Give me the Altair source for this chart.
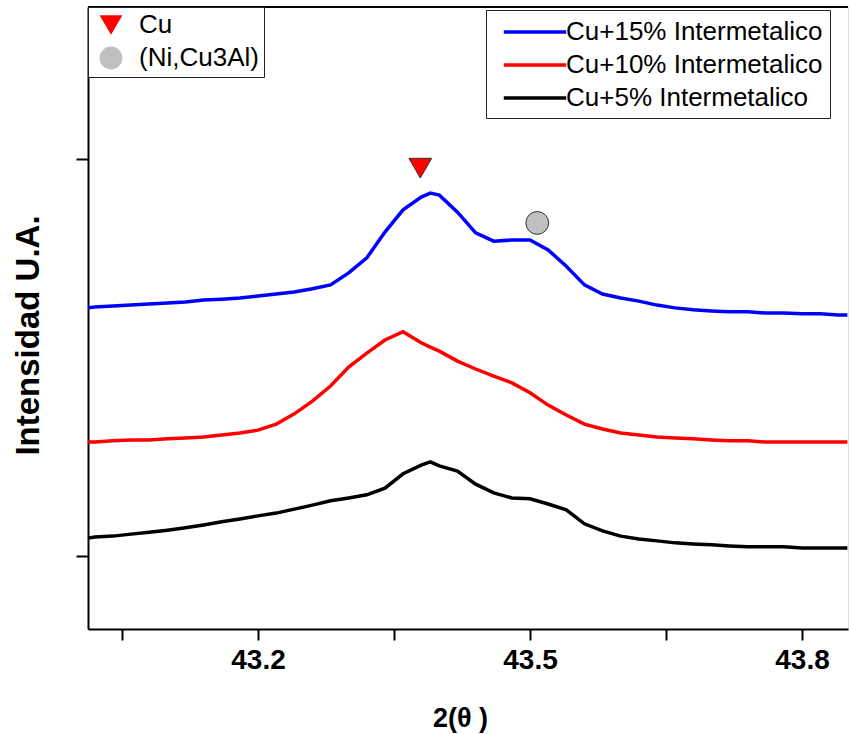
import altair as alt
import pandas as pd

# 2-theta grid (degrees)
two_theta = [43.0125, 43.02, 43.04, 43.06, 43.08, 43.10, 43.12, 43.14, 43.16, 43.18,
             43.20, 43.22, 43.24, 43.26, 43.28, 43.30, 43.32, 43.34, 43.36, 43.38,
             43.39, 43.40, 43.42, 43.44, 43.46, 43.48, 43.50, 43.52, 43.54, 43.56,
             43.58, 43.60, 43.62, 43.64, 43.66, 43.68, 43.70, 43.72, 43.74, 43.76,
             43.78, 43.80, 43.82, 43.84, 43.85]

# intensity (arbitrary units, offset per sample)
cu15 = [0.625, 0.627, 0.630, 0.632, 0.635, 0.637, 0.640, 0.645, 0.647, 0.650,
        0.655, 0.660, 0.665, 0.673, 0.683, 0.713, 0.751, 0.816, 0.872, 0.904,
        0.914, 0.909, 0.866, 0.814, 0.793, 0.796, 0.796, 0.771, 0.730, 0.683,
        0.660, 0.650, 0.642, 0.632, 0.625, 0.620, 0.617, 0.615, 0.615, 0.612,
        0.612, 0.610, 0.610, 0.607, 0.607]
cu10 = [0.287, 0.287, 0.290, 0.292, 0.292, 0.295, 0.297, 0.300, 0.305, 0.310,
        0.317, 0.332, 0.358, 0.390, 0.428, 0.476, 0.511, 0.544, 0.565, 0.537,
        0.526, 0.516, 0.491, 0.471, 0.453, 0.436, 0.411, 0.380, 0.355, 0.332,
        0.320, 0.310, 0.305, 0.300, 0.297, 0.295, 0.292, 0.290, 0.290, 0.287,
        0.287, 0.287, 0.287, 0.287, 0.287]
cu5 = [0.045, 0.048, 0.050, 0.055, 0.060, 0.065, 0.071, 0.078, 0.086, 0.093,
       0.101, 0.108, 0.118, 0.128, 0.139, 0.146, 0.154, 0.171, 0.207, 0.229,
       0.237, 0.227, 0.214, 0.181, 0.159, 0.146, 0.144, 0.131, 0.116, 0.081,
       0.063, 0.050, 0.043, 0.038, 0.033, 0.030, 0.028, 0.025, 0.023, 0.023,
       0.023, 0.020, 0.020, 0.020, 0.020]

series_names = ["Cu+15% Intermetalico", "Cu+10% Intermetalico", "Cu+5% Intermetalico"]
series_colors = ["#0000ff", "#ff0000", "#000000"]

# phase markers
phases = ["Cu", "(Ni,Cu3Al)"]
phase_x = [43.379, 43.508]
phase_y = [0.977, 0.839]
phase_shapes = ["triangle-down", "circle"]
phase_fills = ["#ff0000", "#c0c0c0"]

rows = []
for name, vals in zip(series_names, [cu15, cu10, cu5]):
    for xv, yv in zip(two_theta, vals):
        rows.append({"x": xv, "y": yv, "series": name})
df = pd.DataFrame(rows)
mk = pd.DataFrame({"x": phase_x, "y": phase_y, "phase": phases})

FONT = "Liberation Sans"

xenc = alt.X("x:Q",
             scale=alt.Scale(domain=[43.0125, 43.8507], nice=False, zero=False),
             axis=alt.Axis(values=[43.05, 43.2, 43.35, 43.5, 43.65, 43.8],
                           labelExpr="indexof(['43.2','43.5','43.8'], format(datum.value, '.1f')) >= 0 ? format(datum.value, '.1f') : ''",
                           grid=False, domainColor="black", domainWidth=2,
                           tickColor="black", tickWidth=2, tickSize=11,
                           labelFont=FONT, labelFontSize=28, labelFontWeight="bold",
                           labelColor="black", labelPadding=6,
                           title="2(θ )", titleFont=FONT, titleFontSize=27,
                           titleFontWeight="bold", titleColor="black",
                           titleX=372, titleY=89, titleBaseline="middle",
                           titleAlign="center"))
yenc = alt.Y("y:Q",
             scale=alt.Scale(domain=[-0.184, 1.383], nice=False, zero=False),
             axis=alt.Axis(values=[0, 1], labels=False, grid=False,
                           domainColor="black", domainWidth=2,
                           tickColor="black", tickWidth=2, tickSize=12,
                           title="Intensidad U.A.", titleFont=FONT, titleFontSize=33,
                           titleFontWeight="bold", titleColor="black",
                           titleX=-60, titleY=328, titleAngle=270,
                           titleBaseline="middle", titleAlign="center"))

lines = alt.Chart(df).mark_line(strokeWidth=3.5).encode(
    x=xenc, y=yenc,
    color=alt.Color("series:N",
                    scale=alt.Scale(domain=series_names, range=series_colors),
                    sort=series_names,
                    legend=alt.Legend(orient="none", legendX=398, legendY=3, title=None,
                                      symbolType="M-2.4,0H2.4", symbolSize=676,
                                      symbolStrokeWidth=3.5, labelFont=FONT,
                                      labelFontSize=26, labelColor="black",
                                      padding=7, rowPadding=5, symbolOffset=27,
                                      labelOffset=16, fillColor="white",
                                      strokeColor="#222222", labelLimit=400)),
    detail="series:N",
)

leg2 = alt.Legend(orient="none", legendX=0, legendY=0, title=None,
                  symbolSize=520, labelFont=FONT, labelFontSize=26,
                  labelColor="black", padding=5, rowPadding=6, symbolOffset=5,
                  labelOffset=15, symbolStrokeColor="#333333", symbolStrokeWidth=1,
                  fillColor="white", strokeColor="#222222", labelLimit=400)

points = alt.Chart(mk).mark_point(filled=True, size=520, strokeWidth=1,
                                  stroke="#333333", opacity=1).encode(
    x="x:Q", y="y:Q",
    shape=alt.Shape("phase:N", scale=alt.Scale(domain=phases, range=phase_shapes),
                    sort=phases, legend=leg2),
    fill=alt.Fill("phase:N", scale=alt.Scale(domain=phases, range=phase_fills),
                  sort=phases, legend=leg2),
)

topline = alt.Chart(mk).mark_rule(color="black", strokeWidth=2).encode(
    y=alt.value(0), x=alt.value(0), x2=alt.value(760))

chart = alt.layer(lines, points, topline).properties(
    width=760, height=622,
    autosize=alt.AutoSizeParams(type="none"),
    padding={"left": 88, "top": 7, "right": 1, "bottom": 105},
).configure_view(stroke=None).configure(background="white")

chart.save("out.html", embed_options={"renderer": "svg", "actions": False})
